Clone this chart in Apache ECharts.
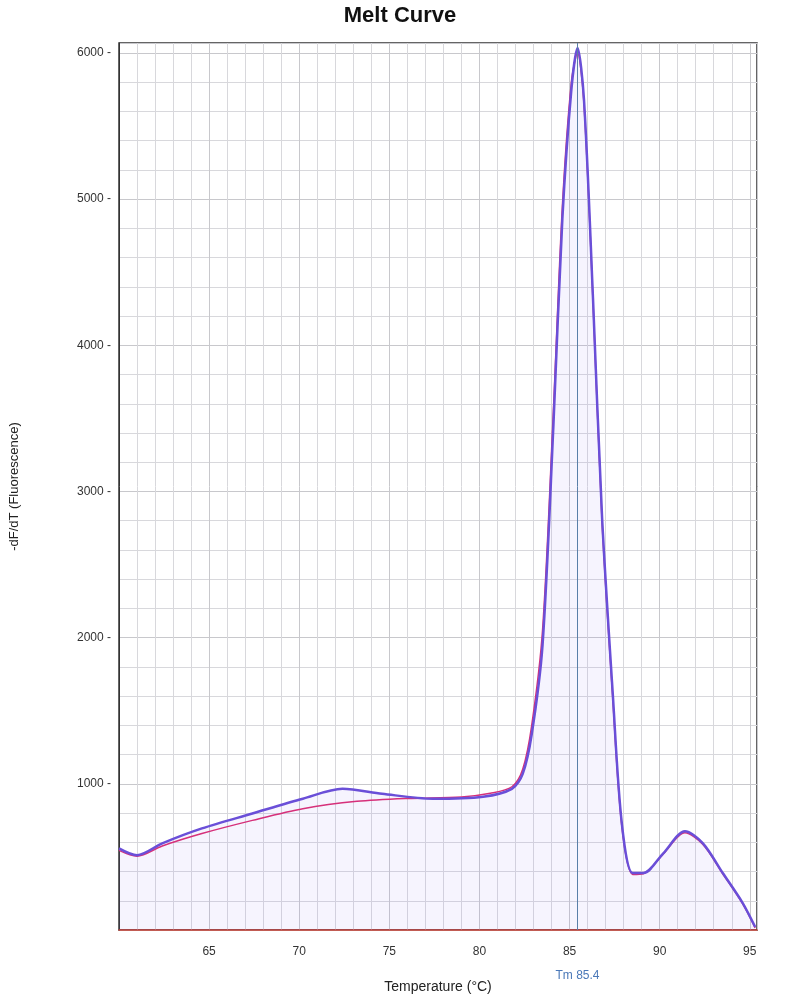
<!DOCTYPE html><html><head><meta charset="utf-8">
<script src="https://cdn.jsdelivr.net/npm/echarts@6/dist/echarts.min.js"></script>
<style>html,body{margin:0;background:#fff}#c{width:800px;height:1008px}</style></head><body><div id="c"></div>
<script>
var temps1 = [60,61,62.4,64.6,67.4,70.2,72.4,74.6,77.4,80.2,81.8,82.4,82.9,83.5,84.1,84.6,85.1,85.44,85.8,86.3,86.8,87.4,87.9,88.5,89.1,90.2,91.4,92.4,93.5,94.6,95.3];
var vals1  = [559,512,593,695,797,898,966,932,898,912,966,1068,1339,1949,3441,4864,5749,6034,5681,4322,2831,1610,729,390,390,525,675,593,390,186,20];
var temps2 = [60,61,62.4,64.6,67.4,70.2,73.2,76,79,80.6,81.8,82.4,82.9,83.5,84.1,84.6,85.1,85.44,85.8,86.3,86.8,87.4,87.9,88.5,89.1,90.2,91.4,92.4,93.5,94.6,95.3];
var vals2  = [545,505,575,660,750,830,880,900,910,935,980,1100,1400,2050,3550,4950,5800,6000,5650,4300,2800,1580,710,380,385,520,665,585,385,180,15];
var tm = 85.44;
function pts(t,v){return t.map(function(x,i){return [x,v[i]];});}
var ch = echarts.init(document.getElementById('c'));
ch.setOption({
  animation:false,
  title:{text:'Melt Curve',left:'center',top:0,textStyle:{fontSize:22,fontWeight:'bold',color:'#111',fontFamily:'Liberation Sans'}},
  grid:{left:117,right:43,top:43,bottom:78,show:true,borderColor:'#333',borderWidth:1.5},
  xAxis:{type:'value',min:60,max:95.4,interval:5,name:'Temperature (°C)',nameLocation:'middle',nameGap:50,
    nameTextStyle:{fontSize:14,color:'#222'},
    axisLine:{lineStyle:{color:'#c0392b',width:1.5}},axisTick:{show:false},
    axisLabel:{color:'#333',fontSize:12,margin:16,formatter:function(v){return v===60?'':v;}},
    splitLine:{show:true,lineStyle:{color:'#c8c8cc'}},
    minorTick:{show:false,splitNumber:5},minorSplitLine:{show:true,lineStyle:{color:'#d8d8dc'}}},
  yAxis:{type:'value',min:0,max:6068,interval:1000,name:'-dF/dT (Fluorescence)',nameLocation:'middle',nameGap:98,
    nameTextStyle:{fontSize:13,color:'#222'},
    axisLine:{show:true,lineStyle:{color:'#333'}},axisTick:{show:false},
    axisLabel:{color:'#333',fontSize:12,showMinLabel:false,showMaxLabel:false,formatter:function(v){return v+' -';}},
    splitLine:{show:true,lineStyle:{color:'#c8c8cc'}},
    minorTick:{show:false,splitNumber:5},minorSplitLine:{show:true,lineStyle:{color:'#d8d8dc'}}},
  series:[
    {type:'line',smooth:0.3,symbol:'none',data:pts(temps2,vals2),lineStyle:{color:'#d6307a',width:1.5}},
    {type:'line',smooth:0.3,symbol:'none',data:pts(temps1,vals1),lineStyle:{color:'#6a4fd8',width:2.5},
     areaStyle:{color:'rgba(150,130,240,0.12)'},
     markLine:{symbol:'none',silent:true,data:[{xAxis:tm}],lineStyle:{color:'#5a7fa8',type:'solid',width:1},
       label:{position:'start',formatter:'Tm 85.4',color:'#4a78b8',fontSize:12,distance:[0,40]}}}
  ]
});
</script></body></html>
